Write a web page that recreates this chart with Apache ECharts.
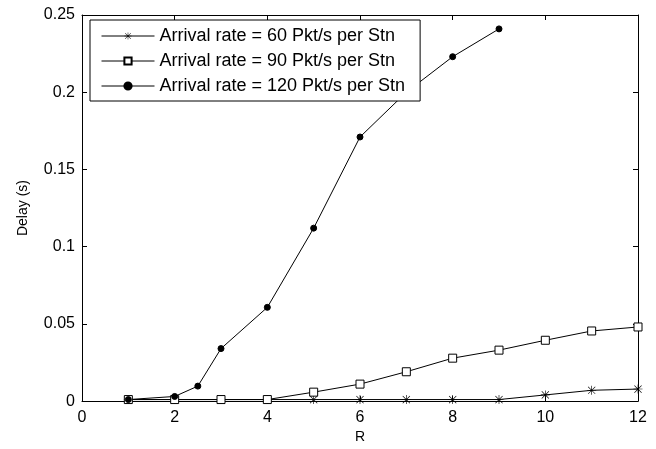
<!DOCTYPE html>
<html>
<head>
<meta charset="utf-8">
<script src="https://cdn.jsdelivr.net/npm/echarts@6/dist/echarts.min.js"></script>
<style>
    html, body { margin: 0; padding: 0; background: #fff; }
    #chart { width: 656px; height: 449px; }
</style>
</head>
<body>
<div id="chart"></div>
<script>
// values
var r60 = [1, 2, 3, 4, 5, 6, 7, 8, 9, 10, 11, 12];
var delay60 = [0.001, 0.001, 0.001, 0.001, 0.001, 0.001, 0.001, 0.001, 0.001, 0.004, 0.007, 0.0078];

var r90 = [1, 2, 3, 4, 5, 6, 7, 8, 9, 10, 11, 12];
var delay90 = [0.001, 0.001, 0.001, 0.001, 0.0058, 0.011, 0.019, 0.0278, 0.033, 0.0394, 0.0454, 0.048];

var r120 = [1, 2, 2.5, 3, 4, 5, 6, 7, 8, 9];
var delay120 = [0.001, 0.003, 0.0097, 0.034, 0.0607, 0.112, 0.171, 0.2, 0.223, 0.241];

var seriesNames = [
    'Arrival rate = 60 Pkt/s per Stn',
    'Arrival rate = 90 Pkt/s per Stn',
    'Arrival rate = 120 Pkt/s per Stn'
];

// asterisk marker built from four thin bars
var starPath = 'path://M9.3 0L10.7 0L10.7 20L9.3 20Z M0 9.3L20 9.3L20 10.7L0 10.7Z ' +
    'M1.5 2.5L2.5 1.5L18.5 17.5L17.5 18.5Z M17.5 1.5L18.5 2.5L2.5 18.5L1.5 17.5Z';

function pairs (xs, ys) {
    return xs.map(function (x, i) { return [x, ys[i]]; });
}

var font = 'Liberation Sans, Arial, sans-serif';

var boxAxis = {
    axisLine: { show: true, onZero: false, lineStyle: { color: '#000', width: 1 } },
    axisTick: { show: true, inside: true, length: 5, lineStyle: { color: '#000' } },
    splitLine: { show: false }
};

function xAxisOpt (pos, withLabels) {
    return Object.assign({
        type: 'value',
        position: pos,
        min: 0, max: 12, interval: 2,
        axisLabel: { show: withLabels, color: '#000', fontSize: 16, fontFamily: font, margin: 8 },
        name: withLabels ? 'R' : '',
        nameLocation: 'middle',
        nameGap: 27,
        nameTextStyle: { color: '#000', fontSize: 14, fontFamily: font }
    }, boxAxis);
}

function yAxisOpt (pos, withLabels) {
    return Object.assign({
        type: 'value',
        position: pos,
        min: 0, max: 0.25, interval: 0.05,
        axisLabel: { show: withLabels, color: '#000', fontSize: 16, fontFamily: font, margin: 7 },
        name: withLabels ? 'Delay (s)' : '',
        nameLocation: 'middle',
        nameGap: 52,
        nameTextStyle: { color: '#000', fontSize: 14, fontFamily: font }
    }, boxAxis);
}

function lineSeries (name, data, symbol, size, fill, border) {
    return {
        name: name,
        type: 'line',
        data: data,
        symbol: symbol,
        symbolSize: size,
        showAllSymbol: true,
        lineStyle: { color: '#000', width: 1 },
        itemStyle: { color: fill, borderColor: '#000', borderWidth: border },
        emphasis: { disabled: true },
        animation: false
    };
}

var option = {
    backgroundColor: '#fff',
    animation: false,
    grid: { left: 82, right: 18, top: 15, bottom: 47 },
    xAxis: [xAxisOpt('bottom', true), xAxisOpt('top', false)],
    yAxis: [yAxisOpt('left', true), yAxisOpt('right', false)],
    legend: {
        orient: 'vertical',
        left: 90,
        top: 20,
        data: seriesNames,
        backgroundColor: '#fff',
        borderColor: '#000',
        borderWidth: 1,
        borderRadius: 0,
        padding: [7, 15, 6, 11],
        itemGap: 7,
        itemWidth: 53,
        itemHeight: 9,
        lineStyle: { width: 1 },
        textStyle: { color: '#000', fontSize: 18, fontFamily: font },
        selectedMode: false,
        zlevel: 1
    },
    series: [
        lineSeries(seriesNames[0], pairs(r60, delay60), starPath, 9, '#000', 0),
        lineSeries(seriesNames[1], pairs(r90, delay90), 'rect', 8, '#fff', 1),
        lineSeries(seriesNames[2], pairs(r120, delay120), 'circle', 6, '#000', 1)
    ]
};

var myChart = echarts.init(document.getElementById('chart'));
myChart.setOption(option);
</script>
</body>
</html>
